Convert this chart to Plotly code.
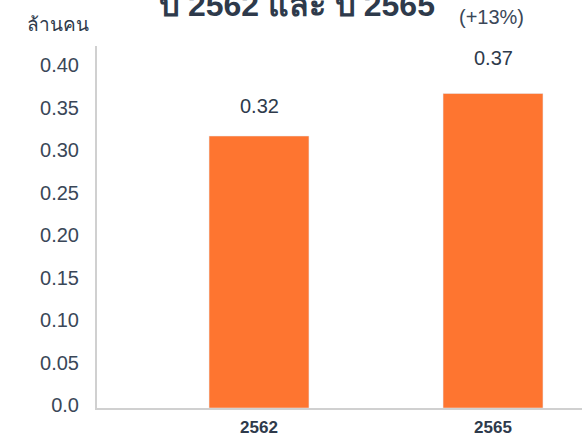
import plotly.graph_objects as go

categories = ["2562", "2565"]
values = [0.32, 0.37]
value_labels = ["0.32", "0.37"]
change_label = "(+13%)"
unit_label = "ล้านคน"
title_text = "ปี 2562 และ ปี 2565"
tick_values = [0.0, 0.05, 0.10, 0.15, 0.20, 0.25, 0.30, 0.35, 0.40]
tick_labels = ["0.0", "0.05", "0.10", "0.15", "0.20", "0.25", "0.30", "0.35", "0.40"]

BAR = "#FE7530"
TXT = "#2E3A4B"
AX = "#D0D0D0"
FONT = "Liberation Sans, Arial, Noto Sans, sans-serif"

W, H = 582, 435
mt, mb, ml, mr = 46, 27, 97, 0
ph = H - mt - mb

def py(px):
    return (H - mb - px) / ph

fig = go.Figure()
fig.add_trace(go.Bar(
    x=categories, y=values, marker_color=BAR, width=0.427,
    hoverinfo="skip",
))

ann = []
for i, (v, t) in enumerate(zip(values, value_labels)):
    ann.append(dict(x=i, y=v, xref="x", yref="y", text=t, showarrow=False,
                    yanchor="bottom", yshift=17 + 6 * i,
                    font=dict(size=20, color=TXT, family=FONT)))
ann.append(dict(x=len(categories) - 1, y=py(17), xref="x", yref="paper", text=change_label,
                showarrow=False, yanchor="middle", xshift=-2,
                font=dict(size=20, color="#3A4758", family=FONT)))
ann.append(dict(x=(58 - ml) / (W - ml - mr), y=py(24), xref="paper", yref="paper",
                text=unit_label, showarrow=False, yanchor="middle", xanchor="center",
                font=dict(size=19, color=TXT, family=FONT)))
ann.append(dict(x=(296 - ml) / (W - ml - mr), y=py(25), xref="paper", yref="paper",
                text="<b>" + title_text + "</b>", showarrow=False, yanchor="bottom",
                xanchor="center",
                font=dict(size=32, color=TXT, family=FONT)))

fig.update_layout(
    width=W, height=H,
    margin=dict(l=ml, r=mr, t=mt, b=mb, pad=0, autoexpand=False),
    plot_bgcolor="white", paper_bgcolor="white",
    showlegend=False,
    annotations=ann,
    font=dict(family=FONT, color=TXT),
    xaxis=dict(
        type="category", range=[-0.6923, 1.3803], automargin=False,
        showline=True, linecolor=AX, linewidth=2,
        showgrid=False, zeroline=False, ticks="",
        tickfont=dict(size=17, color=TXT, family=FONT, weight="bold"),
        ticklabelstandoff=3,
    ),
    yaxis=dict(
        range=[0, 362 / 850], automargin=False,
        tickvals=tick_values, ticktext=tick_labels,
        showline=True, linecolor=AX, linewidth=2,
        showgrid=False, zeroline=False, ticks="",
        tickfont=dict(size=20, color="#3A4758", family=FONT),
        ticklabelstandoff=12, ticklabelshift=-3,
    ),
)

fig.write_html("out.html", config={"displayModeBar": False},
               post_script="document.body.style.margin='0';")
